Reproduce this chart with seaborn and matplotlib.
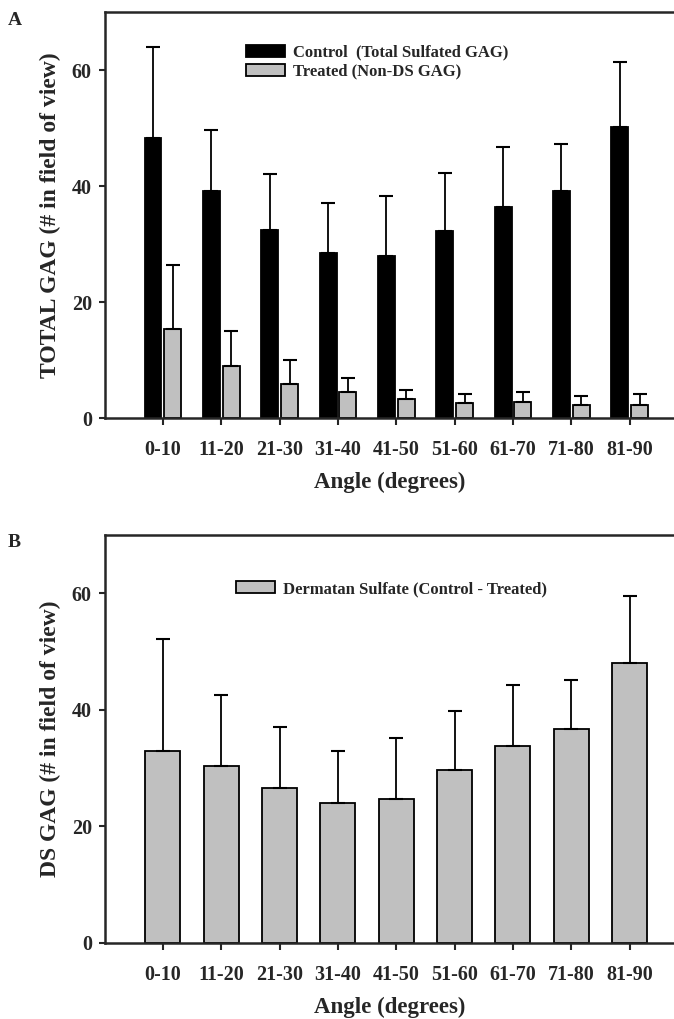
import numpy as np
import pandas as pd
import matplotlib
matplotlib.use("Agg")
import matplotlib.pyplot as plt
from matplotlib.patches import Patch
import seaborn as sns

angles = ["0-10", "11-20", "21-30", "31-40", "41-50", "51-60", "61-70", "71-80", "81-90"]
control_mean = [48.3, 39.1, 32.4, 28.5, 27.9, 32.3, 36.4, 39.2, 50.1]
control_sd = [15.6, 10.6, 9.6, 8.5, 10.3, 10.0, 10.3, 8.0, 11.2]
treated_mean = [15.3, 8.9, 5.8, 4.4, 3.2, 2.6, 2.7, 2.3, 2.2]
treated_sd = [11.1, 6.1, 4.2, 2.5, 1.7, 1.5, 1.7, 1.5, 1.9]
ds_mean = [33.0, 30.3, 26.6, 24.0, 24.7, 29.6, 33.8, 36.8, 48.0]
ds_sd = [19.1, 12.2, 10.5, 9.0, 10.5, 10.2, 10.5, 8.3, 11.5]

lab_control = "Control  (Total Sulfated GAG)"
lab_treated = "Treated (Non-DS GAG)"
lab_ds = "Dermatan Sulfate (Control - Treated)"
gray = "#c0c0c0"

sns.set_style("ticks")
plt.rcParams["font.family"] = ["Liberation Serif", "DejaVu Serif"]
plt.rcParams["font.weight"] = "bold"
plt.rcParams["axes.labelweight"] = "bold"

df_a = pd.DataFrame({
    "angle": angles * 2,
    "value": control_mean + treated_mean,
    "group": [lab_control] * 9 + [lab_treated] * 9,
})
df_b = pd.DataFrame({"angle": angles, "value": ds_mean})

fig = plt.figure(figsize=(6.74, 10.19), dpi=100)
ax_a = fig.add_axes([105 / 674, 1 - 418 / 1019, 1 - 105 / 674, 406 / 1019])
ax_b = fig.add_axes([105 / 674, 1 - 943 / 1019, 1 - 105 / 674, 408 / 1019])

# panel A
sns.barplot(data=df_a, x="angle", y="value", hue="group", order=angles,
            palette=["black", gray], edgecolor="black", linewidth=1.3,
            width=0.68, gap=0.15, errorbar=None, legend=False, ax=ax_a)
for cont, sd in zip(ax_a.containers, [control_sd, treated_sd]):
    xs = [p.get_x() + p.get_width() / 2 for p in cont.patches]
    hs = [p.get_height() for p in cont.patches]
    ax_a.errorbar(xs, hs, yerr=[np.zeros(len(sd)), sd], fmt="none", ecolor="black",
                  elinewidth=1.3, capsize=5, capthick=1.5, zorder=1)

# panel B
sns.barplot(data=df_b, x="angle", y="value", order=angles, color=gray,
            edgecolor="black", linewidth=1.3, width=0.6, errorbar=None, ax=ax_b)
cont = ax_b.containers[0]
xs = [p.get_x() + p.get_width() / 2 for p in cont.patches]
hs = [p.get_height() for p in cont.patches]
ax_b.errorbar(xs, hs, yerr=[np.zeros(len(ds_sd)), ds_sd], fmt="none", ecolor="black",
              elinewidth=1.3, capsize=5, capthick=1.5, zorder=1)

for ax, ylab in [(ax_a, "TOTAL GAG (# in field of view)"), (ax_b, "DS GAG (# in field of view)")]:
    ax.set_xlim(-0.994, 8.76)
    ax.set_ylim(0, 70)
    ax.set_yticks([0, 20, 40, 60])
    ax.spines["right"].set_visible(False)
    for s in ["left", "bottom", "top"]:
        ax.spines[s].set_linewidth(1.8)
    ax.tick_params(axis="x", direction="out", length=5, width=1.5, labelsize=14.5, pad=10.5)
    ax.tick_params(axis="y", direction="out", length=4, width=1.5, labelsize=14.5, pad=5.5)
    ax.set_xlabel("Angle (degrees)", fontsize=16.5, labelpad=9)
    ax.set_ylabel(ylab, fontsize=17, labelpad=8)

ax_a.legend(handles=[Patch(facecolor="black", edgecolor="black", linewidth=1.3, label=lab_control),
                     Patch(facecolor=gray, edgecolor="black", linewidth=1.3, label=lab_treated)],
            loc="upper left", bbox_to_anchor=(0.248, 0.92), frameon=False, fontsize=12,
            handlelength=2.33, handleheight=0.76, handletextpad=0.5, labelspacing=0.2,
            borderpad=0, borderaxespad=0)
ax_b.legend(handles=[Patch(facecolor=gray, edgecolor="black", linewidth=1.3, label=lab_ds)],
            loc="upper left", bbox_to_anchor=(0.230, 0.8875), frameon=False, fontsize=12,
            handlelength=2.33, handleheight=0.76, handletextpad=0.5,
            borderpad=0, borderaxespad=0)

fig.text(8 / 674, 1 - 25 / 1019, "A", fontsize=14, fontweight="bold")
fig.text(8 / 674, 1 - 547 / 1019, "B", fontsize=14, fontweight="bold")

fig.savefig("out.png", dpi=100)
